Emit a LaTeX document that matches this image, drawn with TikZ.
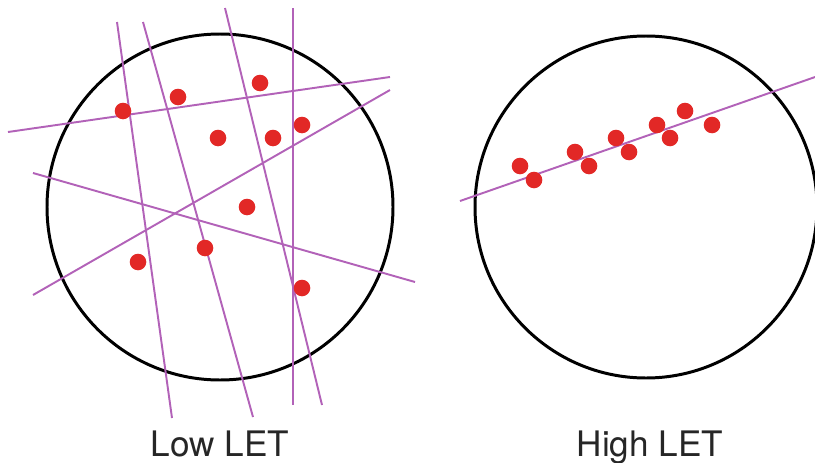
\documentclass[tikz,border=0pt]{standalone}
\usepackage{fontspec}
\setmainfont{TeX Gyre Heros}
\definecolor{trackpurple}{RGB}{178,98,184}
\definecolor{hitred}{RGB}{226,40,38}
\begin{document}
\begin{tikzpicture}[x=0.02cm, y=-0.02cm,
  cell/.style={draw=black, line width=1.7pt},
  track/.style={draw=trackpurple, line width=1.1pt},
  hit/.style={fill=hitred},
  caption/.style={anchor=base, font=\fontsize{20}{24}\selectfont, text=black!85}]
  \useasboundingbox (0,0) rectangle (815,463);
  % cells
  \draw[cell] (220,207) circle (173);
  \draw[cell] (646,207) circle (171);
  % low LET: sparse tracks
  \draw[track] (117,22) -- (172,418);
  \draw[track] (143,22) -- (253,417);
  \draw[track] (225,8) -- (322,405);
  \draw[track] (293,8) -- (293,405);
  \draw[track] (8,132) -- (390,77);
  \draw[track] (33,295) -- (390,90);
  \draw[track] (33,173) -- (415,282);
  \foreach \x/\y in {123/111, 178/97, 260/83, 218/138, 273/138, 302/125, 247/207, 205/248, 138/262, 302/288}
    \fill[hit] (\x,\y) circle (8.3);
  % high LET: one dense track
  \draw[track] (460,201) -- (818,76);
  \foreach \x/\y in {520/166, 534/180, 575/152, 589/166, 616/138, 629/152, 657/125, 670/138, 685/111, 712/125}
    \fill[hit] (\x,\y) circle (8.3);
  \node[caption] (low) at (220,456) {Low LET};
  \node[caption] (high) at (650,456) {High LET};
\end{tikzpicture}
\end{document}
